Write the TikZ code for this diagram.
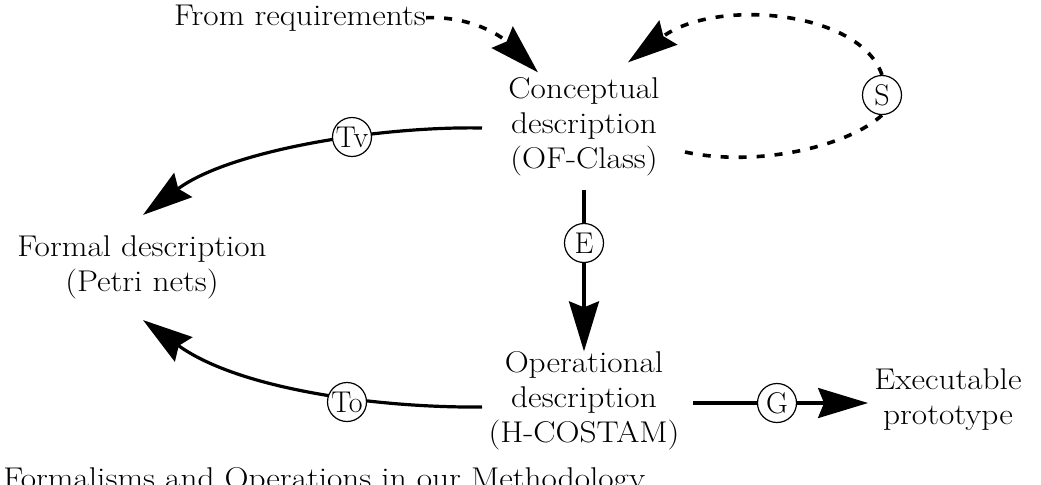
\documentclass[tikz,border=0pt]{standalone}
\usepackage{fontspec}
\setmainfont{Latin Modern Roman}[FakeStretch=1.11]
\newfontfamily\plainlm{Latin Modern Roman}
\usetikzlibrary{arrows.meta,calc,backgrounds}
\begin{document}
\begin{tikzpicture}[x=0.5pt,y=-0.5pt,
  font=\fontsize{15}{17.5}\selectfont,
  txt/.style={inner sep=0pt, align=center},
  opcirc/.style={circle, draw, line width=0.6pt, fill=white, inner sep=0pt, minimum size=19.5pt, font=\plainlm\fontsize{15}{17.5}\selectfont},
  headtip/.style={-{Stealth[length=25pt,width=15pt,inset=3pt]}},
  flow/.style={line width=1.6pt, headtip},
  dotline/.style={line width=1.8pt, dash pattern=on 4pt off 5pt}]
\useasboundingbox (0,0) rectangle (1041,484);
\clip (0,0) rectangle (1041,484);

% text nodes
\node[txt, anchor=base] (req) at (300,25) {From requirements};
\node[txt] (concept) at (584,127) {Conceptual\\description\\(OF-Class)};
\node[txt] (formal) at (142,267) {Formal description\\(Petri nets)};
\node[txt] (oper) at (584,401) {Operational\\description\\(H-COSTAM)};
\node[txt] (exec) at (948,400) {Executable\\prototype};
\node[inner sep=0pt, anchor=base west] (caption) at (3,488) {Formalisms and Operations in our Methodology.};

% operation circles
\node[opcirc] (Tv) at (352,137) {Tv};
\node[opcirc] (E) at (584,243) {E};
\node[opcirc] (S) at (882,95) {S};
\node[opcirc] (To) at (347,402) {To};
\node[opcirc] (G) at (777,403) {G};

\begin{scope}[on background layer]
  % from requirements
  \draw[dotline, headtip] (req.east) .. controls (470,16) and (500,35) .. ($(concept.north)+(-46,-5)$);
  % self loop S
  \draw[dotline] ($(concept.center)+(101,25)$) .. controls (760,168) and (850,145) .. (S.south);
  \draw[dotline, headtip] (S.north) .. controls (860,10) and (715,-2) .. ($(concept.north)+(44,-15)$);
  % Tv
  \draw[flow] ($(concept.center)+(-102,1)$) .. controls (380,126) and (230,150) .. ($(formal.north)+(1,-20)$);
  % E
  \draw[flow] ($(concept.south)+(0,13)$) -- (oper.north);
  % To
  \draw[flow] ($(oper.center)+(-102,6)$) .. controls (380,408) and (240,390) .. ($(formal.south)+(1,21)$);
  % G
  \draw[flow] ($(oper.center)+(109,2)$) -- ($(exec.west)+(-6,3)$);
\end{scope}
\end{tikzpicture}
\end{document}
